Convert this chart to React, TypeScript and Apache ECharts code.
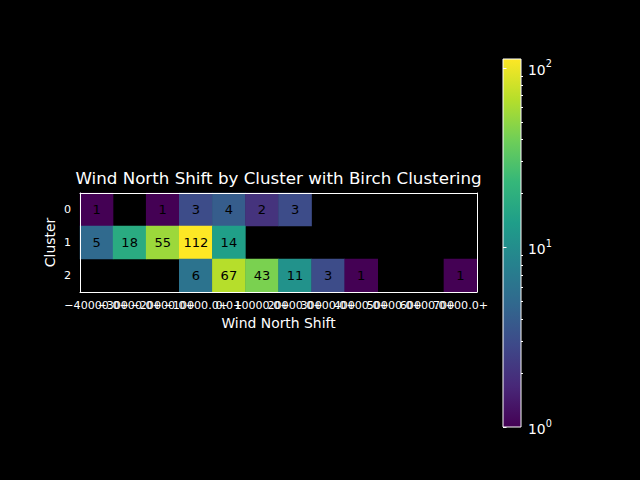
import { useEffect, useRef } from "react"
import * as echarts from "echarts"

const shiftLabels = [
  "−40000.0+", "−30000.0+", "−20000.0+", "−10000.0+", "0.0+", "10000.0+",
  "20000.0+", "30000.0+", "40000.0+", "50000.0+", "60000.0+", "70000.0+",
]
const clusters = ["0", "1", "2"]

// counts per cluster, null = no samples in that bin
const cluster0 = [1, null, 1, 3, 4, 2, 3, null, null, null, null, null]
const cluster1 = [5, 18, 55, 112, 14, null, null, null, null, null, null, null]
const cluster2 = [null, null, null, 6, 67, 43, 11, 3, 1, null, null, 1]

const colorbarMin = 1
const colorbarMax = 112
const majorTicks = [1, 10, 100]
const minorTicks = [2, 3, 4, 5, 6, 7, 8, 9, 20, 30, 40, 50, 60, 70, 80, 90]

const viridis = [
  "#440154", "#482878", "#3e4989", "#31688e", "#26828e",
  "#1f9e89", "#35b779", "#6ece58", "#b5de2b", "#fde725",
]

const font = "DejaVu Sans"

export default function App() {
  const chartRef = useRef<HTMLDivElement>(null)

  useEffect(() => {
    if (!chartRef.current) return
    const chart = echarts.init(chartRef.current, null, { renderer: "svg" })

    const logMin = Math.log10(colorbarMin)
    const logMax = Math.log10(colorbarMax)

    const rows = [cluster0, cluster1, cluster2]
    const cells: number[][] = []
    rows.forEach((row, y) => {
      row.forEach((v, x) => {
        if (v != null) cells.push([x, y, v, Math.log10(v)])
      })
    })

    const gradient = new echarts.graphic.LinearGradient(
      0, 1, 0, 0,
      viridis.map((c, i) => ({ offset: i / (viridis.length - 1), color: c }))
    )

    const option: any = {
      animation: false,
      backgroundColor: "#000",
      title: {
        text: "Wind North Shift by Cluster with Birch Clustering",
        left: 273.5,
        top: 164,
        textAlign: "center",
        textStyle: { color: "#fff", fontSize: 16.7, fontWeight: "normal", fontFamily: font },
      },
      grid: [
        { left: 80, top: 193, width: 397, height: 99, show: false },
        { left: 503, top: 59, width: 18, height: 368, show: false },
      ],
      visualMap: {
        type: "continuous",
        show: false,
        seriesIndex: 0,
        dimension: 3,
        min: logMin,
        max: logMax,
        inRange: { color: viridis },
      },
      xAxis: [
        {
          type: "category",
          gridIndex: 0,
          data: shiftLabels,
          z: 10,
          name: "Wind North Shift",
          nameLocation: "middle",
          nameGap: 24,
          nameMoveOverlap: false,
          nameTextStyle: { color: "#fff", fontSize: 13.9, fontFamily: font },
          axisLine: { lineStyle: { color: "#fff", width: 1 } },
          axisTick: { alignWithLabel: true, length: 3.5, lineStyle: { color: "#fff" } },
          axisLabel: { interval: 0, color: "#fff", fontSize: 11.1, fontFamily: font, margin: 8 },
          splitLine: { show: false },
        },
        {
          type: "value",
          gridIndex: 1,
          min: 0,
          max: 1,
          show: false,
        },
        {
          type: "category",
          gridIndex: 0,
          data: shiftLabels,
          position: "top",
          z: 10,
          axisLine: { lineStyle: { color: "#fff", width: 1 } },
          axisTick: { show: false },
          axisLabel: { show: false },
        },
      ],
      yAxis: [
        {
          type: "category",
          gridIndex: 0,
          data: clusters,
          inverse: true,
          z: 10,
          name: "Cluster",
          nameLocation: "middle",
          nameRotate: 90,
          nameGap: 23,
          nameMoveOverlap: false,
          nameTextStyle: { color: "#fff", fontSize: 13.9, fontFamily: font },
          axisLine: { lineStyle: { color: "#fff", width: 1 } },
          axisTick: { alignWithLabel: true, length: 3.5, lineStyle: { color: "#fff" } },
          axisLabel: { color: "#fff", fontSize: 11.1, fontFamily: font, margin: 9 },
          splitLine: { show: false },
        },
        {
          type: "value",
          gridIndex: 1,
          min: logMin,
          max: logMax,
          position: "right",
          z: 10,
          axisLine: { show: false },
          axisTick: {
            length: 3.5,
            lineStyle: { color: "#fff" },
            customValues: majorTicks.map((t) => Math.log10(t)),
          },
          axisLabel: {
            color: "#fff",
            fontFamily: font,
            margin: 7,
            customValues: majorTicks.map((t) => Math.log10(t)),
            formatter: (v: number) => `{b|10}{s|${Math.round(v)}}`,
            rich: {
              b: { fontSize: 13.9, fontFamily: font, color: "#fff", lineHeight: 18, verticalAlign: "bottom" },
              s: { fontSize: 9.7, fontFamily: font, color: "#fff", lineHeight: 18, verticalAlign: "top" },
            },
          },
          splitLine: { show: false },
        },
        {
          type: "value",
          gridIndex: 1,
          min: logMin,
          max: logMax,
          position: "right",
          z: 10,
          axisLine: { show: false },
          axisTick: {
            length: 2,
            lineStyle: { color: "#fff" },
            customValues: minorTicks.map((t) => Math.log10(t)),
          },
          axisLabel: { show: false },
          splitLine: { show: false },
        },
        {
          type: "category",
          gridIndex: 0,
          data: clusters,
          inverse: true,
          position: "right",
          z: 10,
          axisLine: { lineStyle: { color: "#fff", width: 1 } },
          axisTick: { show: false },
          axisLabel: { show: false },
        },
      ],
      series: [
        {
          type: "heatmap",
          xAxisIndex: 0,
          yAxisIndex: 0,
          data: cells,
          z: 2,
          label: {
            show: true,
            color: "#000",
            fontSize: 13,
            fontFamily: font,
            formatter: (p: any) => String(p.value[2]),
          },
          itemStyle: { borderWidth: 0 },
        },
        {
          type: "custom",
          xAxisIndex: 1,
          yAxisIndex: 1,
          data: [[0, logMin, 1, logMax]],
          renderItem: (_params: any, api: any) => {
            const p0 = api.coord([0, logMin])
            const p1 = api.coord([1, logMax])
            return {
              type: "rect",
              shape: { x: p0[0], y: p1[1], width: p1[0] - p0[0], height: p0[1] - p1[1] },
              style: { fill: gradient, stroke: "#fff", lineWidth: 1 },
            }
          },
        },
      ],
    }

    chart.setOption(option)
    return () => chart.dispose()
  }, [])

  return (
    <div
      ref={chartRef}
      style={{ position: "fixed", left: 0, top: 0, width: 640, height: 480, background: "#000" }}
    />
  )
}
